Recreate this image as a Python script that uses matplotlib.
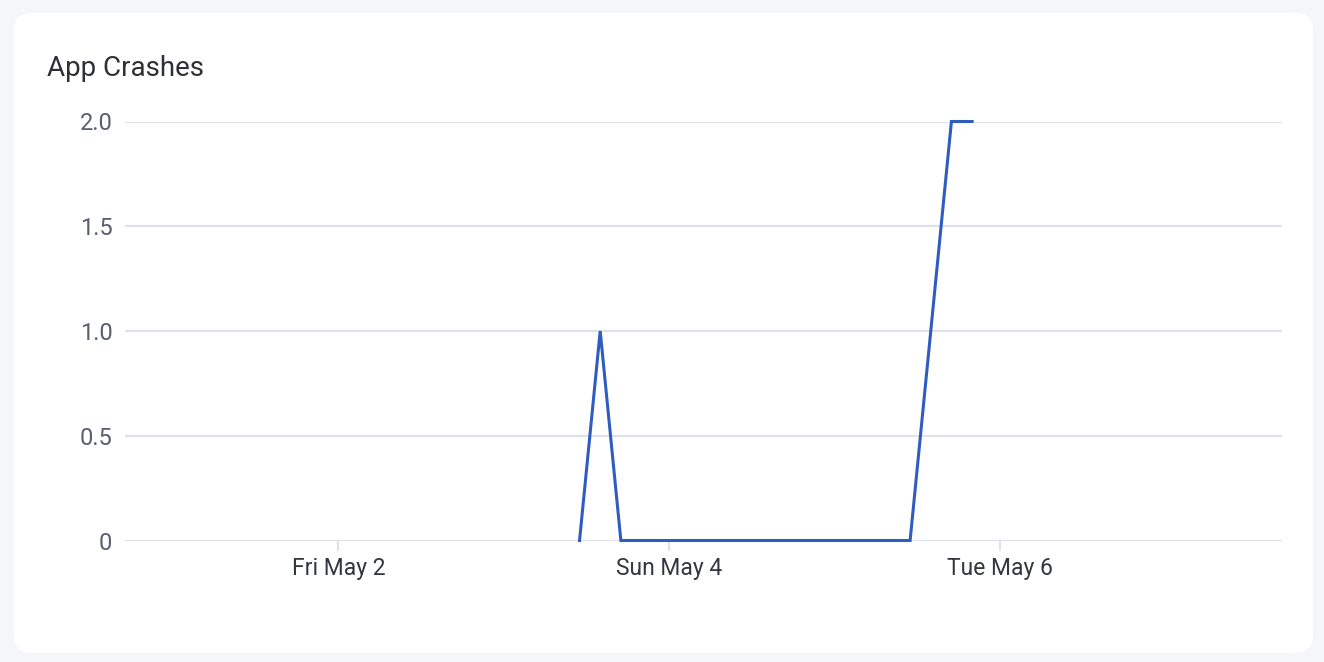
import matplotlib
matplotlib.use("Agg")
from datetime import datetime

import matplotlib.dates as mdates
import matplotlib.pyplot as plt
from matplotlib.patches import FancyBboxPatch

# crash counts, 3-hour buckets (only the turning points of the line)
times = [
    datetime(2025, 5, 3, 11),
    datetime(2025, 5, 3, 14),
    datetime(2025, 5, 3, 17),
    datetime(2025, 5, 5, 11),
    datetime(2025, 5, 5, 17),
    datetime(2025, 5, 5, 20),
]
crashes = [0, 1, 0, 0, 2, 2]

x_start = datetime(2025, 4, 30, 17)
x_end = datetime(2025, 5, 7, 17)
y_ticks = [0, 0.5, 1.0, 1.5, 2.0]
y_labels = ["0", "0.5", "1.0", "1.5", "2.0"]
tick_days = [datetime(2025, 5, 2), datetime(2025, 5, 4), datetime(2025, 5, 6)]

linecolor = "#2f5cbf"
gridcolor = "#dfe1ec"

plt.rcParams["font.family"] = ["Roboto", "DejaVu Sans"]

W, H = 1324, 662
fig = plt.figure(figsize=(W / 100, H / 100), dpi=100)
fig.patch.set_facecolor("#f5f6fa")

# white card with rounded corners, in pixel coordinates
card = FancyBboxPatch(
    (14 + 18, H - 653 + 18), 1299 - 36, 640 - 36,
    boxstyle="round,pad=18",
    transform=None, facecolor="white", edgecolor="none", zorder=-5,
)
fig.patches.append(card)

fig.text(47 / W, 1 - 76 / H, "App Crashes", fontsize=20, color="#2e3036",
         va="baseline", ha="left")

ax = fig.add_axes([125 / W, 121.5 / H, (1282 - 125) / W, (540.5 - 121.5) / H])
ax.set_facecolor("none")

ax.plot(times, crashes, color=linecolor, linewidth=2.2, clip_on=False,
        solid_joinstyle="miter", zorder=3)

ax.set_xlim(x_start, x_end)
ax.set_ylim(0, 2)
ax.set_yticks(y_ticks)
ax.set_yticklabels(y_labels)
ax.set_xticks(tick_days)
ax.xaxis.set_major_formatter(
    plt.FuncFormatter(lambda v, _: mdates.num2date(v).strftime("%a %b ") + str(mdates.num2date(v).day))
)

ax.grid(axis="y", color=gridcolor, linewidth=1.6)
ax.set_axisbelow(True)
for s in ax.spines.values():
    s.set_visible(False)

ax.tick_params(axis="y", length=0, pad=9, labelsize=17, labelcolor="#5a5f70")
ax.tick_params(axis="x", length=7, width=1.5, color=gridcolor, pad=5,
               labelsize=16.5, labelcolor="#34373f")

fig.savefig("out.png", dpi=100)
